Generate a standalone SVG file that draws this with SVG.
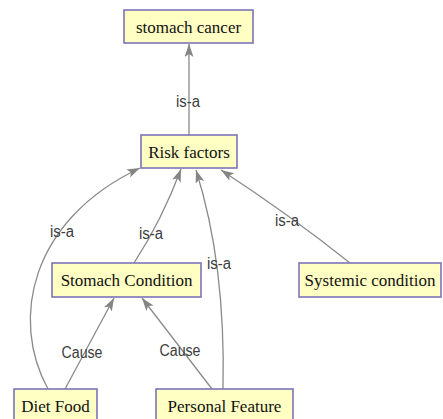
<svg xmlns="http://www.w3.org/2000/svg" width="443" height="419" viewBox="0 0 443 419">
<style>
.node rect{fill:#ffffc4;stroke:#7b74b8;stroke-width:1.6}
.node text{font-family:"Liberation Serif",serif;font-size:17px;fill:#111;text-anchor:middle}
.edge{fill:none;stroke:#8a8a8a;stroke-width:1.3;marker-end:url(#arr)}
.lbl{font-family:"Liberation Sans",sans-serif;font-size:16px;fill:#3c3c3c;text-anchor:middle}
</style>
<defs>
<marker id="arr" markerUnits="userSpaceOnUse" markerWidth="14" markerHeight="10" refX="13" refY="4.5" orient="auto">
<path d="M0,0 L13,4.5 L0,9 L3,4.5 z" fill="#858585"/>
</marker>
</defs>
<rect width="443" height="419" fill="#fff"/>
<g id="connectors">
<path class="edge" d="M189,135 L189,44"/>
<path class="edge" d="M48,389 C10,320 30,220 140,168"/>
<path class="edge" d="M134,263 Q162,220 181,169"/>
<path class="edge" d="M223,389 C225,300 215,230 196,170"/>
<path class="edge" d="M350,263 Q290,215 221,170"/>
<path class="edge" d="M65,389 L114,298"/>
<path class="edge" d="M212,389 L142,298"/>
<text class="lbl" x="188" y="107" textLength="24" lengthAdjust="spacingAndGlyphs">is-a</text>
<text class="lbl" x="62" y="237" textLength="24" lengthAdjust="spacingAndGlyphs">is-a</text>
<text class="lbl" x="151" y="239" textLength="24" lengthAdjust="spacingAndGlyphs">is-a</text>
<text class="lbl" x="219" y="269" textLength="24" lengthAdjust="spacingAndGlyphs">is-a</text>
<text class="lbl" x="287" y="226" textLength="24" lengthAdjust="spacingAndGlyphs">is-a</text>
<text class="lbl" x="82" y="358" textLength="41" lengthAdjust="spacingAndGlyphs">Cause</text>
<text class="lbl" x="180" y="356" textLength="41" lengthAdjust="spacingAndGlyphs">Cause</text>
</g>
<g id="stomach-cancer" class="node"><rect x="124" y="10" width="129" height="33"/><text x="188.5" y="33">stomach cancer</text></g>
<g id="risk-factors" class="node"><rect x="141" y="135" width="96" height="33"/><text x="189" y="158">Risk factors</text></g>
<g id="stomach-condition" class="node"><rect x="52" y="263" width="149" height="34"/><text x="126.5" y="286">Stomach Condition</text></g>
<g id="systemic-condition" class="node"><rect x="299" y="263" width="142" height="34"/><text x="370" y="286">Systemic condition</text></g>
<g id="diet-food" class="node"><rect x="14" y="389" width="83" height="34"/><text x="55.5" y="412">Diet Food</text></g>
<g id="personal-feature" class="node"><rect x="156" y="389" width="137" height="34"/><text x="224.5" y="412">Personal Feature</text></g>
</svg>
